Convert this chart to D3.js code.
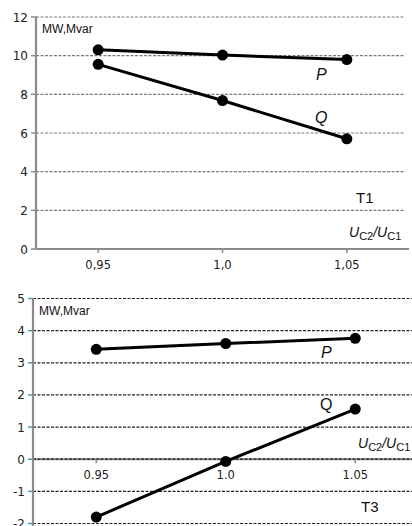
<!DOCTYPE html>
<html><head><meta charset="utf-8">
<script src="https://cdn.jsdelivr.net/npm/d3@7"></script>
<style>body{margin:0;background:#fff;}svg{display:block;}</style>
</head><body>
<svg id="c" width="412" height="526"></svg>
<script>
const categories = ["0.95", "1.0", "1.05"];
const topTickLabels = ["0,95", "1,0", "1,05"];
const bottomTickLabels = ["0.95", "1.0", "1.05"];
const topP = [10.3, 10.03, 9.8];
const topQ = [9.55, 7.68, 5.7];
const bottomP = [3.42, 3.6, 3.76];
const bottomQ = [-1.8, -0.07, 1.56];
const topYTicks = [0, 2, 4, 6, 8, 10, 12];
const bottomYTicks = [-2, -1, 0, 1, 2, 3, 4, 5];

const svg = d3.select("#c");
const numFont = "DejaVu Sans, Verdana, sans-serif";
const txtFont = "Liberation Sans, Arial, sans-serif";

function panel(o) {
  const g = svg.append("g");
  const x = d3.scalePoint().domain(categories).range(o.xr).padding(0.5);
  const y = d3.scaleLinear().domain(o.yd).range(o.yr);
  // gridlines
  g.selectAll(".grid").data(o.yticks.filter(v => v !== o.baseline || o.gridAtBase)).enter()
    .append("line")
    .attr("x1", o.axisX).attr("x2", o.gridEnd)
    .attr("y1", d => y(d)).attr("y2", d => y(d))
    .attr("stroke", o.gridColor).attr("stroke-width", 1.2).attr("stroke-dasharray", "3,1.5");
  // x axis line
  const by = y(o.baseline);
  g.append("line").attr("x1", o.axisX).attr("x2", o.xAxisEnd).attr("y1", by).attr("y2", by)
    .attr("stroke", "#8c8c8c").attr("stroke-width", 2);
  if (o.gridAtBase) {
    g.append("line").attr("x1", o.axisX).attr("x2", o.gridEnd).attr("y1", by).attr("y2", by)
      .attr("stroke", o.gridColor).attr("stroke-width", 1.2).attr("stroke-dasharray", "3,1.5");
  }
  // x ticks
  g.selectAll(".xt").data(categories).enter().append("line")
    .attr("x1", d => x(d)).attr("x2", d => x(d)).attr("y1", by).attr("y2", by + 4)
    .attr("stroke", "#8c8c8c").attr("stroke-width", 1.5);
  g.selectAll(".xl").data(categories).enter().append("text")
    .attr("x", d => x(d)).attr("y", by + o.xLabelDy).attr("text-anchor", "middle")
    .attr("font-family", numFont).attr("font-size", 11.5).attr("fill", "#222")
    .text((d, i) => o.xLabels[i]);
  // y axis
  g.append("line").attr("x1", o.axisX).attr("x2", o.axisX).attr("y1", y(o.yd[1]) - 0.5).attr("y2", o.yAxisBottom)
    .attr("stroke", "#8c8c8c").attr("stroke-width", 2.2);
  g.selectAll(".yt").data(o.yticks).enter().append("line")
    .attr("x1", o.axisX - 5).attr("x2", o.axisX).attr("y1", d => y(d)).attr("y2", d => y(d))
    .attr("stroke", o.yTickColor).attr("stroke-width", 1.5);
  g.selectAll(".yl").data(o.yticks).enter().append("text")
    .attr("x", o.axisX - 8).attr("y", d => y(d) + 4.5).attr("text-anchor", "end")
    .attr("font-family", numFont).attr("font-size", 12).attr("fill", "#222")
    .text(d => d);
  // series
  const line = d3.line().x((d, i) => x(categories[i])).y(d => y(d));
  [o.P, o.Q].forEach(s => {
    g.append("path").datum(s).attr("d", line).attr("fill", "none")
      .attr("stroke", "#000").attr("stroke-width", 3);
    g.selectAll(null).data(s).enter().append("circle")
      .attr("cx", (d, i) => x(categories[i])).attr("cy", d => y(d)).attr("r", 5.5).attr("fill", "#000");
  });
  // texts
  g.append("text").attr("x", o.axisX + 6).attr("y", y(o.yd[1]) + 16)
    .attr("font-family", txtFont).attr("font-size", 12).attr("fill", "#111").text("MW,Mvar");
  o.labels.forEach(l => {
    g.append("text").attr("x", l.x).attr("y", l.y).attr("font-family", txtFont)
      .attr("font-size", l.size).attr("font-style", l.italic ? "italic" : "normal")
      .attr("fill", "#111").text(l.t);
  });
  const u = g.append("text").attr("x", o.ux).attr("y", o.uy).attr("font-family", txtFont)
    .attr("font-size", 14).attr("fill", "#111");
  u.append("tspan").attr("font-style", "italic").text("U");
  u.append("tspan").attr("font-size", 11).attr("dy", 3).text("C2");
  u.append("tspan").attr("dy", -3).attr("font-style", "italic").text("/U");
  u.append("tspan").attr("font-size", 11).attr("dy", 3).text("C1");
}

panel({
  xr: [36, 409], yd: [0, 12], yr: [249, 17], yticks: topYTicks, baseline: 0,
  axisX: 36, gridEnd: 405, xAxisEnd: 409, gridColor: "#7a7a7a", gridAtBase: false,
  yTickColor: "#8c8c8c", yAxisBottom: 249, xLabelDy: 20, xLabels: topTickLabels,
  P: topP, Q: topQ,
  labels: [{t: "P", x: 316, y: 80, size: 16, italic: true},
           {t: "Q", x: 315, y: 123, size: 16, italic: true},
           {t: "T1", x: 356, y: 203, size: 15, italic: false}],
  ux: 349, uy: 237
});

panel({
  xr: [31.5, 420], yd: [-2, 5], yr: [523.5, 298.5], yticks: bottomYTicks, baseline: 0,
  axisX: 33, gridEnd: 412, xAxisEnd: 412, gridColor: "#222", gridAtBase: true,
  yTickColor: "#4a9ab0", yAxisBottom: 526, xLabelDy: 20, xLabels: bottomTickLabels,
  P: bottomP, Q: bottomQ,
  labels: [{t: "P", x: 321, y: 358, size: 16, italic: true},
           {t: "Q", x: 320, y: 410, size: 16, italic: false},
           {t: "T3", x: 361, y: 512, size: 15, italic: false}],
  ux: 358, uy: 448
});
</script>
</body></html>
